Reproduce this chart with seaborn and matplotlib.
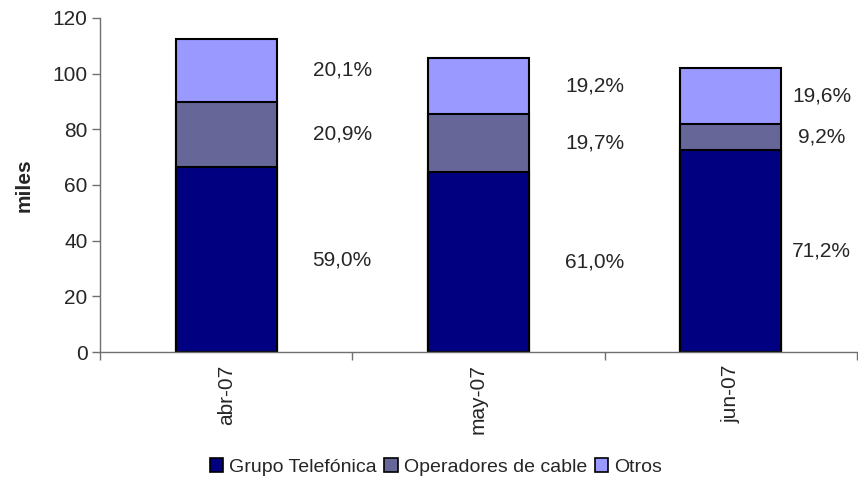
import matplotlib
matplotlib.use("Agg")
import matplotlib.pyplot as plt
import matplotlib.patches as mpatches
import seaborn as sns
import pandas as pd
import numpy as np

meses = ["abr-07", "may-07", "jun-07"]
grupo = [66.4, 64.6, 72.6]
cable = [23.5, 20.9, 9.4]
otros = [22.6, 20.3, 20.0]
pct_grupo = ["59,0%", "61,0%", "71,2%"]
pct_cable = ["20,9%", "19,7%", "9,2%"]
pct_otros = ["20,1%", "19,2%", "19,6%"]

series = ["Grupo Telefónica", "Operadores de cable", "Otros"]
colores = ["#000080", "#666699", "#9999FF"]

sns.set_theme(style="white")
plt.rcParams["font.family"] = ["Liberation Sans", "DejaVu Sans"]

df = pd.DataFrame({"mes": meses, "grupo": grupo, "cable": cable, "otros": otros})
df["c1"] = df["grupo"]
df["c2"] = df["grupo"] + df["cable"]
df["c3"] = df["c2"] + df["otros"]

fig = plt.figure(figsize=(8.58, 4.82), dpi=100)
ax = fig.add_axes([0.1166, 0.2697, 0.882, 0.693])

# stacked look: draw cumulative totals from tallest to shortest
for col, color in zip(["c3", "c2", "c1"], colores[::-1]):
    sns.barplot(data=df, x="mes", y=col, color=color, width=0.4,
                edgecolor="black", linewidth=1.5, saturation=1, ax=ax)

fs = 15
offsets = [0.46, 0.46, 0.36]
for i in range(len(meses)):
    xt = i + offsets[i]
    ax.text(xt, df["c1"][i] / 2, pct_grupo[i], ha="center", va="center", fontsize=fs)
    ax.text(xt, (df["c1"][i] + df["c2"][i]) / 2, pct_cable[i], ha="center", va="center", fontsize=fs)
    ax.text(xt, (df["c2"][i] + df["c3"][i]) / 2, pct_otros[i], ha="center", va="center", fontsize=fs)

ax.set_xlim(-0.5, 2.5)
ax.set_ylim(0, 120)
ax.set_yticks(np.arange(0, 121, 20))
ax.tick_params(axis="y", labelsize=fs, length=6, width=1, color="#707070", direction="out", left=True, pad=3)
ax.set_xticks(range(len(meses)))
ax.set_xticklabels(meses, rotation=90, fontsize=fs)
ax.tick_params(axis="x", which="major", length=0, pad=9)
ax.set_xticks([-0.5, 0.5, 1.5, 2.5], minor=True)
ax.tick_params(axis="x", which="minor", length=6, width=1, color="#707070", direction="out", bottom=True)

ax.set_xlabel("")
ax.set_ylabel("miles", fontsize=15, fontweight="bold")
ax.yaxis.set_label_coords(-0.088, 0.5)

for s in ["top", "right"]:
    ax.spines[s].set_visible(False)
for s in ["left", "bottom"]:
    ax.spines[s].set_color("#707070")
    ax.spines[s].set_linewidth(1)

handles = [mpatches.Patch(facecolor=c, edgecolor="black", linewidth=1.2) for c in colores]
fig.legend(handles, series, loc="center", bbox_to_anchor=(0.508, 0.031), ncol=3,
           frameon=False, fontsize=14, handlelength=0.7, handleheight=0.7,
           handletextpad=0.3, columnspacing=0.4)

fig.savefig("out.png", dpi=100)
